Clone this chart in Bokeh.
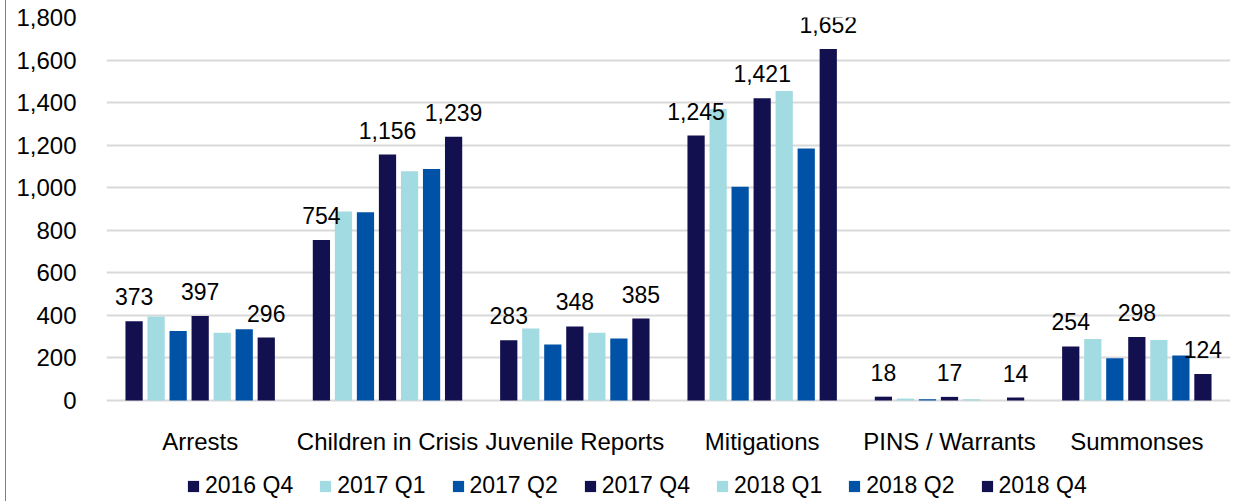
from bokeh.plotting import figure
from bokeh.models import ColumnDataSource, FactorRange, Legend, LegendItem, NumeralTickFormatter, FixedTicker, Range1d, LabelSet
from bokeh.core.properties import value
from bokeh.transform import dodge
from bokeh.embed import file_html
from bokeh.resources import INLINE

categories = ["Arrests", "Children in Crisis", "Juvenile Reports", "Mitigations", "PINS / Warrants", "Summonses"]
series = ["2016 Q4", "2017 Q1", "2017 Q2", "2017 Q4", "2018 Q1", "2018 Q2", "2018 Q4"]
v_2016_q4 = [373, 754, 283, 1245, 18, 254]
v_2017_q1 = [395, 888, 338, 1370, 9, 289]
v_2017_q2 = [327, 885, 263, 1005, 6, 199]
v_2017_q4 = [397, 1156, 348, 1421, 17, 298]
v_2018_q1 = [318, 1077, 318, 1454, 6, 284]
v_2018_q2 = [335, 1088, 291, 1184, 0, 212]
v_2018_q4 = [296, 1239, 385, 1652, 14, 124]
y_ticks = [0, 200, 400, 600, 800, 1000, 1200, 1400, 1600, 1800]
labelled = ["2016 Q4", "2017 Q4", "2018 Q4"]

values = [v_2016_q4, v_2017_q1, v_2017_q2, v_2017_q4, v_2018_q1, v_2018_q2, v_2018_q4]
colors = ["#13104F", "#A3DBE2", "#0052A6", "#13104F", "#A3DBE2", "#0052A6", "#13104F"]

FONT = "Liberation Sans"
AX_FS = "24px"
FS = "23px"

# layout in screen pixels: frame top (1,800 line) at y=17, zero line at y=400, canvas bottom 501
TOP_PX, ZERO_PX, BOTTOM_PX = 17, 400, 501
units_per_px = 1800 / (ZERO_PX - TOP_PX)
y_start = -(BOTTOM_PX - ZERO_PX) * units_per_px

p = figure(x_range=FactorRange(factors=categories, range_padding=0),
           y_range=Range1d(y_start, 1800),
           width=1229, height=501, output_backend="svg", toolbar_location=None,
           min_border_left=100, min_border_right=5, min_border_top=TOP_PX, min_border_bottom=0)
p.outline_line_color = None
p.background_fill_color = "white"
p.border_fill_color = "white"
p.styles = {"border-left": "1px solid #7F7F7F", "margin-left": "5px"}

step = 0.1176
bw = 0.092
items = []
for i, (name, vals, col) in enumerate(zip(series, values, colors)):
    src = ColumnDataSource(dict(cat=categories, val=vals,
                                txt=[f"{v:,}" for v in vals]))
    off = (i - 3) * step
    r = p.vbar(x=dodge("cat", off, range=p.x_range), top="val", width=bw, source=src,
               fill_color=col, line_color=None)
    items.append(LegendItem(label=name, renderers=[r]))
    if name in labelled:
        lbl = LabelSet(x=dodge("cat", off, range=p.x_range), y="val", text="txt", source=src,
                       text_align="center", text_baseline="alphabetic", y_offset=16,
                       text_font=value(FONT), text_font_size=FS, text_color="#000000")
        p.add_layout(lbl)

# category labels under the zero line
cat_src = ColumnDataSource(dict(cat=categories, y=[-(441 - ZERO_PX) * units_per_px] * len(categories)))
p.text(x="cat", y="y", text="cat", source=cat_src, text_align="center", text_baseline="alphabetic",
       text_font=value(FONT), text_font_size=AX_FS, text_color="#000000")

p.xaxis.visible = False

p.yaxis.ticker = FixedTicker(ticks=y_ticks)
p.yaxis.formatter = NumeralTickFormatter(format="0,0")
p.yaxis.axis_line_color = None
p.yaxis.major_tick_line_color = None
p.yaxis.minor_tick_line_color = None
p.yaxis.major_label_standoff = 24
p.yaxis.major_label_text_font = FONT
p.yaxis.major_label_text_font_size = AX_FS
p.yaxis.major_label_text_color = "#000000"

p.xgrid.grid_line_color = None
p.ygrid.ticker = FixedTicker(ticks=y_ticks)
p.ygrid.grid_line_color = "#D9D9D9"
p.ygrid.grid_line_width = 2

legend = Legend(items=items, orientation="horizontal", location=(80, 2),
                label_text_font=FONT, label_text_font_size=FS, label_text_color="#000000",
                glyph_width=14, glyph_height=14, label_standoff=5, spacing=25,
                padding=0, margin=0, border_line_color=None, background_fill_alpha=0)
p.add_layout(legend)

open("out.html", "w").write(file_html(p, INLINE))
